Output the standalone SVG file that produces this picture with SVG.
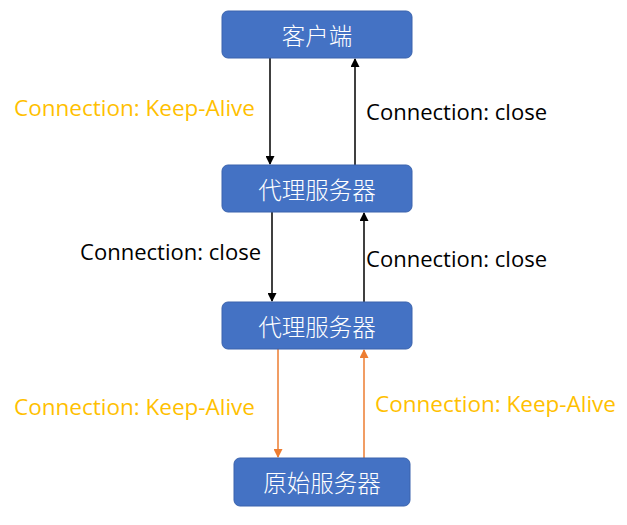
<svg xmlns="http://www.w3.org/2000/svg" width="627" height="525" viewBox="0 0 627 525">
<style>
.box{fill:#4472C4;stroke:#3A63AD;stroke-width:1}
.bt{fill:#fff;font-family:"Noto Sans CJK SC",sans-serif;font-size:23.5px;font-weight:300;text-anchor:middle;dominant-baseline:central}
.lbl{font-family:"Open Sans","Noto Sans CJK SC",sans-serif;font-size:21.5px;dominant-baseline:central;lengthAdjust:spacingAndGlyphs}
.y{fill:#FFC000}
.k{fill:#000}
.lk{stroke:#000;stroke-width:1.5;fill:none}
.lo{stroke:#ED7D31;stroke-width:1.5;fill:none}
</style>
<defs>
<marker id="ak" markerWidth="9" markerHeight="9" refX="8" refY="4.5" orient="auto" markerUnits="userSpaceOnUse"><path d="M0,0 L9,4.5 L0,9 Z" fill="#000"/></marker>
<marker id="ao" markerWidth="9" markerHeight="9" refX="8" refY="4.5" orient="auto" markerUnits="userSpaceOnUse"><path d="M0,0 L9,4.5 L0,9 Z" fill="#ED7D31"/></marker>
</defs>
<g id="connectors">
<line class="lk" x1="270" y1="58" x2="270" y2="164" marker-end="url(#ak)"/>
<line class="lk" x1="355" y1="165" x2="355" y2="59" marker-end="url(#ak)"/>
<line class="lk" x1="272" y1="212" x2="272" y2="301" marker-end="url(#ak)"/>
<line class="lk" x1="364" y1="302" x2="364" y2="213" marker-end="url(#ak)"/>
<line class="lo" x1="278" y1="349" x2="278" y2="457" marker-end="url(#ao)"/>
<line class="lo" x1="364" y1="458" x2="364" y2="350" marker-end="url(#ao)"/>
<text class="lbl y" x="14" y="107" textLength="241" lengthAdjust="spacingAndGlyphs">Connection: Keep-Alive</text>
<text class="lbl k" x="366" y="111" textLength="181" lengthAdjust="spacingAndGlyphs">Connection: close</text>
<text class="lbl k" x="80" y="251" textLength="181" lengthAdjust="spacingAndGlyphs">Connection: close</text>
<text class="lbl k" x="366" y="258" textLength="181" lengthAdjust="spacingAndGlyphs">Connection: close</text>
<text class="lbl y" x="14" y="406" textLength="241" lengthAdjust="spacingAndGlyphs">Connection: Keep-Alive</text>
<text class="lbl y" x="375" y="403" textLength="241" lengthAdjust="spacingAndGlyphs">Connection: Keep-Alive</text>
</g>
<g id="client"><rect class="box" x="222" y="11" width="190" height="47" rx="6"/><text class="bt" x="317" y="34.5">客户端</text></g>
<g id="proxy1"><rect class="box" x="222" y="165" width="190" height="47" rx="6"/><text class="bt" x="317" y="188.5">代理服务器</text></g>
<g id="proxy2"><rect class="box" x="222" y="302" width="190" height="47" rx="6"/><text class="bt" x="317" y="325.5">代理服务器</text></g>
<g id="origin"><rect class="box" x="234" y="458" width="176" height="48" rx="6"/><text class="bt" x="322" y="482">原始服务器</text></g>
</svg>
